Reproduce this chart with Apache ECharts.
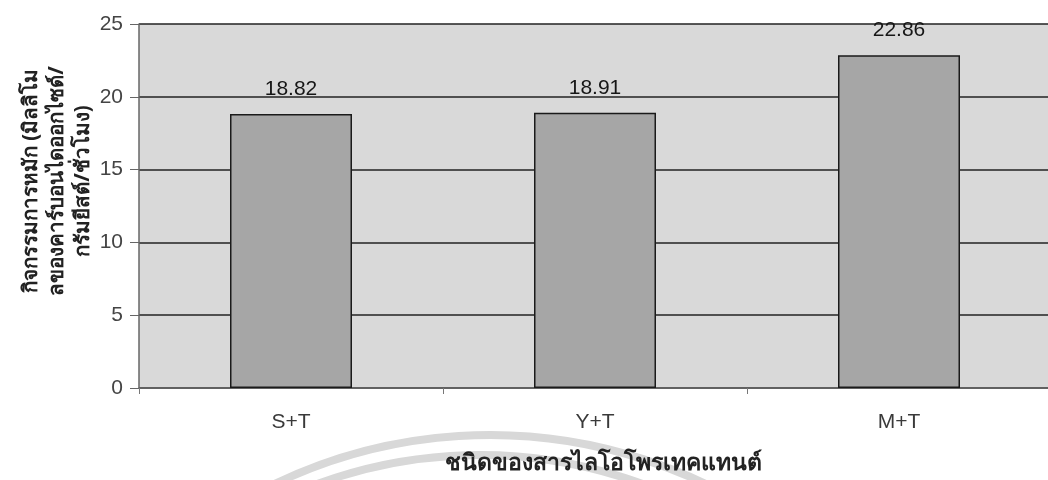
<!DOCTYPE html>
<html>
<head>
<meta charset="utf-8">
<script src="https://cdn.jsdelivr.net/npm/echarts@6/dist/echarts.min.js"></script>
<style>
  html, body { margin: 0; padding: 0; background: #ffffff; }
  #chart { width: 1048px; height: 480px; }
</style>
</head>
<body>
<div id="chart"></div>
<script>
// Fermentation activity for each lyoprotectant mix
const categories = ['S+T', 'Y+T', 'M+T'];
const activity = [18.82, 18.91, 22.86];
const yTicks = { min: 0, max: 25, interval: 5 };

const yTitle = 'กิจกรรมการหมัก (มิลลิโม\nลของคาร์บอนไดออกไซด์/\nกรัมยีสต์/ชั่วโมง)';
const xTitle = 'ชนิดของสารไลโอโพรเทคแทนต์';

const latin = "'Liberation Sans', Arial, sans-serif";
const thai = "'Noto Sans', 'DejaVu Sans', sans-serif";

const chart = echarts.init(document.getElementById('chart'), null, { renderer: 'canvas' });

chart.setOption({
  animation: false,
  backgroundColor: '#ffffff',
  grid: {
    left: 139, top: 24, width: 912, height: 364,
    outerBoundsMode: 'none',
    show: true, backgroundColor: '#d9d9d9', borderWidth: 0
  },
  graphic: [
    // faint concentric arcs behind the lower axis text
    {
      type: 'arc', z: -10, silent: true,
      shape: { cx: 490, cy: 933, r: 498, startAngle: Math.PI * 1.1, endAngle: Math.PI * 1.9 },
      style: { stroke: '#d8d8d8', lineWidth: 8, fill: 'none' }
    },
    {
      type: 'arc', z: -10, silent: true,
      shape: { cx: 480, cy: 925, r: 470, startAngle: Math.PI * 1.1, endAngle: Math.PI * 1.9 },
      style: { stroke: '#d8d8d8', lineWidth: 8, fill: 'none' }
    },
    {
      type: 'text', z: 10, silent: true,
      x: 57, y: 181, rotation: Math.PI / 2,
      style: {
        text: yTitle,
        fontFamily: thai, fontSize: 20.5, fontWeight: 'bold',
        fill: '#222222', align: 'center', verticalAlign: 'middle', lineHeight: 26
      }
    }
  ],
  xAxis: {
    type: 'category',
    data: categories,
    boundaryGap: true,
    name: xTitle,
    nameLocation: 'middle',
    nameGap: 64,
    nameTextStyle: {
      fontFamily: thai, fontSize: 23, fontWeight: 'bold', color: '#222222',
      padding: [0, 0, 0, 16]
    },
    axisLine: { lineStyle: { color: '#666666', width: 1.5 } },
    axisTick: { show: true, alignWithLabel: false, length: 6, lineStyle: { color: '#777777' } },
    axisLabel: { margin: 24, fontFamily: latin, fontSize: 21, color: '#3a3a3a' }
  },
  yAxis: {
    type: 'value',
    min: yTicks.min, max: yTicks.max, interval: yTicks.interval,
    axisLine: { show: true, lineStyle: { color: '#666666', width: 1.5 } },
    axisTick: { show: true, length: 9, lineStyle: { color: '#666666' } },
    axisLabel: { margin: 16, fontFamily: latin, fontSize: 21, color: '#444444' },
    splitLine: { show: true, lineStyle: { color: '#222222', width: 1.5 } }
  },
  series: [{
    type: 'bar',
    data: activity,
    barWidth: 122,
    itemStyle: { color: '#a6a6a6', borderColor: '#1a1a1a', borderWidth: 1.5 },
    label: {
      show: true, position: 'top', distance: 14,
      formatter: p => p.value.toFixed(2),
      fontFamily: latin, fontSize: 21, color: '#161616'
    }
  }]
});
</script>
</body>
</html>
